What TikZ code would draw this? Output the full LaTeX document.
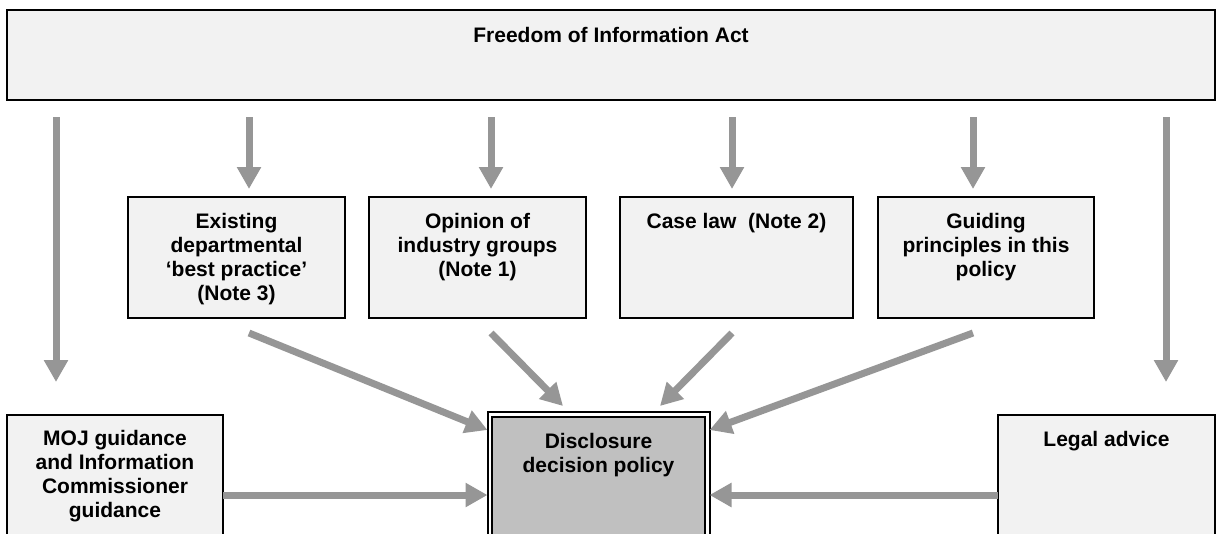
\documentclass[tikz,border=0pt]{standalone}
\usepackage{fontspec}
\setmainfont{Liberation Sans}
\usepackage{tikz}
\usetikzlibrary{calc,arrows.meta}

\definecolor{boxfill}{HTML}{F2F2F2}
\definecolor{mainfill}{HTML}{C0C0C0}
\definecolor{arrowgray}{HTML}{969696}

\begin{document}
\begin{tikzpicture}[x=1pt,y=-1pt,
    box/.style={draw, fill=boxfill, line width=1.2pt, anchor=north west, inner sep=0pt, outer sep=0pt},
    txt/.style={anchor=north, align=center, inner sep=0pt, font=\fontsize{21}{24}\selectfont\bfseries},
    flow/.style={draw=arrowgray, line width=7pt, -{Triangle[width=23pt,length=22pt]}}]
                \clip (0,0) rectangle (1217,533);
                \node[box, line width=2pt, minimum width=1208pt, minimum height=90pt] (fia) at (7,10) {};
                \node[txt] (fiat) at ([yshift=-16.7pt]fia.north) {Freedom of Information Act};

                \node[box, minimum width=217pt, minimum height=121pt] (exist) at (128,197) {};
                \node[box, minimum width=217pt, minimum height=121pt] (opin) at (369,197) {};
                \node[box, minimum width=233pt, minimum height=121pt] (case) at (620,197) {};
                \node[box, minimum width=216pt, minimum height=121pt] (guide) at (878,197) {};
                \node[txt] (existt) at ([yshift=-15.7pt]exist.north) {Existing\\departmental\\‘best practice’\\(Note 3)};
                \node[txt] (opint) at ([yshift=-15.7pt]opin.north) {Opinion of\\industry groups\\(Note 1)};
                \node[txt] (caset) at ([yshift=-15.7pt]case.north) {Case law\ \ (Note 2)};
                \node[txt] (guidet) at ([yshift=-15.7pt]guide.north) {Guiding\\principles in this\\policy};

                \node[box, minimum width=216pt, minimum height=140pt] (moj) at (7,415) {};
                \node[box, minimum width=217pt, minimum height=140pt] (legal) at (998,415) {};
                \node[txt] (mojt) at ([yshift=-14.7pt]moj.north) {MOJ guidance\\and Information\\Commissioner\\guidance};
                \node[txt] (legalt) at ([yshift=-15.7pt]legal.north) {Legal advice};

                \node[box, fill=white, line width=2pt, minimum width=222pt, minimum height=140pt] (dd) at (487.5,412) {};
                \node[box, fill=mainfill, line width=2.5pt, minimum width=213pt, minimum height=140pt] (ddin) at (492,417) {};
                \node[txt] (ddt) at ([yshift=-15.7pt]ddin.north) {Disclosure\\decision policy};

                \foreach \x/\b in {249/exist, 491/opin, 732/case, 973/guide}
                    \draw [flow, shorten <=17pt, shorten >=8pt] (fia.south -| \x,0) -- (\b.north -| \x,0);
                \draw [flow, shorten <=17pt, shorten >=33pt] (fia.south -| 56,0) -- (moj.north -| 56,0);
                \draw [flow, shorten <=17pt, shorten >=33pt] (fia.south -| 1166,0) -- (legal.north -| 1166,0);

                \draw [flow] ($(exist.south -| 249,0)+(0,15)$) -- ($(dd.north west)+(0,18)$);
                \draw [flow] ($(opin.south -| 491,0)+(0,15)$) -- ($(dd.north)+(-35.5,-6)$);
                \draw [flow] ($(case.south -| 732,0)+(0,15)$) -- ($(dd.north)+(61.5,-6)$);
                \draw [flow] ($(guide.south -| 973,0)+(0,15)$) -- ($(dd.north east)+(0,18)$);

                \draw [flow] (moj.east |- 0,495) -- (dd.west |- 0,495);
                \draw [flow] (legal.west |- 0,495) -- (dd.east |- 0,495);
            \end{tikzpicture}
\end{document}
